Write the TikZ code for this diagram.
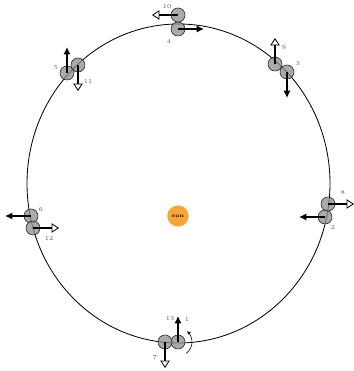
\documentclass[tikz,border=0pt]{standalone}
\usepackage{xcolor}
\usepackage{tikz}
\usetikzlibrary{
  arrows.meta,
  positioning
}
\definecolor{sunorange}{HTML}{F8A63A}
\definecolor{bodygray} {HTML}{8E8E8E}
\definecolor{numgray}  {HTML}{555555}

\begin{document}
\begin{tikzpicture}[
  x=0.03cm, y=0.03cm,
  every node/.style={font=\fontsize{5.2}{6}\selectfont},
  body/.style={
    circle, draw=black!85, line width=0.5pt, fill=bodygray,
    fill opacity=0.75, minimum size=0.42cm, inner sep=0pt
  },
  sunball/.style={circle, fill=sunorange, minimum size=0.64cm, inner sep=0pt,
    font=\fontsize{4.5}{5}\selectfont\bfseries},
  orbit/.style={line width=0.7pt},
  fwd/.style={line width=1.6pt, -{Latex[length=0.22cm, width=0.22cm]}},
  back/.style={line width=1.6pt,
    -{Triangle[open, fill=white, line width=0.7pt, length=0.22cm, width=0.28cm]}},
  spin/.style={line width=0.5pt, -{Stealth[length=0.12cm, width=0.1cm]}},
  num/.style={text=numgray, inner sep=0pt},
  node distance=0.78cm,
]
\useasboundingbox (0,0) rectangle (353,371);

% orbit and sun
\draw[orbit] (178.5,187.5) ellipse (151.5 and 159.5);
\node[sunball] (sun) at (178,155) {sun};

% bodies
\node[body] (p1)  at (178,29)  {};
\node[body] (p7)  at (165,29)  {};
\node[body] (p2)  at (325,154) {};
\node[body] (p8)  at (328,167) {};
\node[body] (p3)  at (287,299) {};
\node[body] (p9)  at (275,307) {};
\node[body] (p4)  at (178,342) {};
\node[body] (p10) at (178,356) {};
\node[body] (p5)  at (67,298)  {};
\node[body] (p11) at (78,306)  {};
\node[body] (p6)  at (31,155)  {};
\node[body] (p12) at (33,143)  {};

% arrow ends
\coordinate[above=of p1.center]  (t1);
\coordinate[below=of p7.center]  (t7);
\coordinate[left=of p2.center]   (t2);
\coordinate[right=of p8.center]  (t8);
\coordinate[below=of p3.center]  (t3);
\coordinate[above=of p9.center]  (t9);
\coordinate[right=of p4.center]  (t4);
\coordinate[left=of p10.center]  (t10);
\coordinate[above=of p5.center]  (t5);
\coordinate[below=of p11.center] (t11);
\coordinate[left=of p6.center]   (t6);
\coordinate[right=of p12.center] (t12);

% Arrows
\draw[fwd]  (p1.center)  -- (t1);
\draw[fwd]  (p2.center)  -- (t2);
\draw[fwd]  (p3.center)  -- (t3);
\draw[fwd]  (p4.center)  -- (t4);
\draw[fwd]  (p5.center)  -- (t5);
\draw[fwd]  (p6.center)  -- (t6);
\draw[back] (p7.center)  -- (t7);
\draw[back] (p8.center)  -- (t8);
\draw[back] (p9.center)  -- (t9);
\draw[back] (p10.center) -- (t10);
\draw[back] (p11.center) -- (t11);
\draw[back] (p12.center) -- (t12);

% rotation
\draw[spin] ([shift={(-55:14)}]p1.center) arc (-55:50:14);

% numbers
\node[num] (n1)  at (187,52)  {1};
\node[num] (n13) at (170,52)  {13};
\node[num] (n7)  at (155,13)  {7};
\node[num] (n2)  at (333,144) {2};
\node[num] (n8)  at (343,178) {8};
\node[num] (n3)  at (298,307) {3};
\node[num] (n9)  at (284,323) {9};
\node[num] (n4)  at (169,330) {4};
\node[num] (n10) at (167,364) {10};
\node[num] (n5)  at (56,303)  {5};
\node[num] (n11) at (88,290)  {11};
\node[num] (n6)  at (41,161)  {6};
\node[num] (n12) at (49,133)  {12};
\end{tikzpicture}
\end{document}
